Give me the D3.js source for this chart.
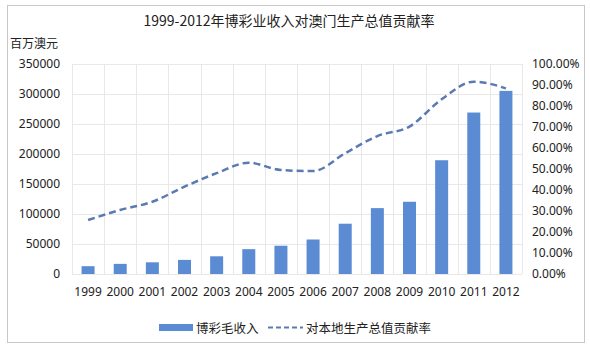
<!DOCTYPE html>
<html><head><meta charset="utf-8">
<script src="https://cdn.jsdelivr.net/npm/d3@7"></script>
<style>
body{margin:0;background:#fff;}
text{font-family:"Noto Sans CJK SC","Noto Sans",sans-serif;fill:#222;}
</style></head>
<body>
<svg id="c" width="590" height="351"></svg>
<script>
const years = ["1999","2000","2001","2002","2003","2004","2005","2006","2007","2008","2009","2010","2011","2012"];
const revenue = [13000,16900,19500,23500,29500,41400,47100,57500,83800,109800,120400,189600,269100,305200];
const contribution = [0.257,0.305,0.344,0.416,0.48,0.53,0.495,0.49,0.575,0.657,0.702,0.832,0.916,0.884];
const leftTicks = [0,50000,100000,150000,200000,250000,300000,350000];
const rightTicks = [0,0.1,0.2,0.3,0.4,0.5,0.6,0.7,0.8,0.9,1.0];

const svg = d3.select("#c");
svg.append("rect").attr("x",7.5).attr("y",5.5).attr("width",577).attr("height",337)
  .attr("fill","#fff").attr("stroke","#c8c8c8");

const L=72, R=522, T=64, B=274;
const xb = d3.scaleBand().domain(years).range([L,R]);
const yL = d3.scaleLinear().domain([0,350000]).range([B,T]);
const yR = d3.scaleLinear().domain([0,1]).range([B,T]);

// grid
svg.append("g").selectAll("line").data(leftTicks).join("line")
  .attr("x1",L).attr("x2",R).attr("y1",d=>yL(d)+0.5).attr("y2",d=>yL(d)+0.5)
  .attr("stroke","#e8e8e8");
svg.append("g").selectAll("line").data(years.concat(["end"])).join("line")
  .attr("x1",(d,i)=>Math.round(L+i*xb.bandwidth())+0.5).attr("x2",(d,i)=>Math.round(L+i*xb.bandwidth())+0.5)
  .attr("y1",T).attr("y2",B).attr("stroke","#e8e8e8");

// bars
const barW = 13;
svg.append("g").selectAll("rect").data(revenue).join("rect")
  .attr("x",(d,i)=>xb(years[i])+xb.bandwidth()/2-barW/2)
  .attr("width",barW)
  .attr("y",d=>yL(d)).attr("height",d=>B-yL(d))
  .attr("fill","#5b8bd3");

// line
const line = d3.line().x((d,i)=>xb(years[i])+xb.bandwidth()/2).y(d=>yR(d)).curve(d3.curveMonotoneX);
svg.append("path").datum(contribution).attr("d",line).attr("fill","none")
  .attr("stroke","#5b7ab3").attr("stroke-width",2.5).attr("stroke-dasharray","7,4");

const tickFont = sel => sel.selectAll("text").style("font-family","'Noto Sans',sans-serif").style("font-size","12px").attr("fill","#222");

// left axis
const axL = d3.axisLeft(yL).tickValues(leftTicks).tickSize(0).tickPadding(0).tickFormat(d3.format("d"));
const gL = svg.append("g").attr("transform","translate(60,0)").call(axL);
gL.select(".domain").remove(); tickFont(gL);

// right axis
const axR = d3.axisRight(yR).tickValues(rightTicks).tickSize(0).tickPadding(0).tickFormat(d3.format(".2%"));
const gR = svg.append("g").attr("transform","translate(532,0)").call(axR);
gR.select(".domain").remove(); tickFont(gR);

// x axis
const axX = d3.axisBottom(xb).tickSize(0).tickPadding(0);
const gX = svg.append("g").attr("transform","translate(0,287)").call(axX);
gX.select(".domain").remove(); tickFont(gX);

// title
svg.append("text").attr("x",289).attr("y",26).attr("text-anchor","middle")
  .style("font-size","14px").text("1999-2012年博彩业收入对澳门生产总值贡献率");
svg.append("text").attr("x",10).attr("y",48).style("font-size","12px").text("百万澳元");

// legend
svg.append("rect").attr("x",159).attr("y",324).attr("width",34).attr("height",7).attr("fill","#5b8bd3");
svg.append("text").attr("x",196).attr("y",333).style("font-size","12.5px").text("博彩毛收入");
svg.append("line").attr("x1",268).attr("x2",303).attr("y1",327.5).attr("y2",327.5)
  .attr("stroke","#5b7ab3").attr("stroke-width",2).attr("stroke-dasharray","5,3");
svg.append("text").attr("x",306).attr("y",333).style("font-size","12.5px").text("对本地生产总值贡献率");
</script>
</body></html>
